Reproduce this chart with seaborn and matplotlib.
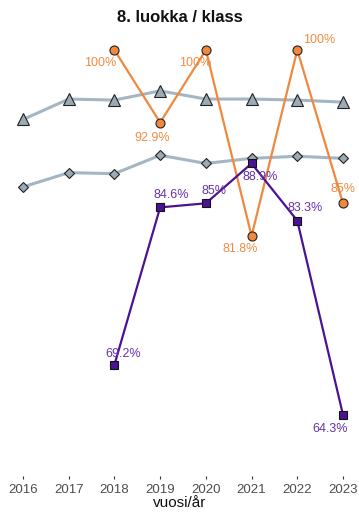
import numpy as np
import pandas as pd
import matplotlib
matplotlib.use("Agg")
import matplotlib.pyplot as plt
import seaborn as sns

years = [2016, 2017, 2018, 2019, 2020, 2021, 2022, 2023]

# gray reference series (no labels)
ref_triangle = [93.2, 95.2, 95.1, 96.0, 95.2, 95.2, 95.1, 94.9]
ref_diamond = [86.6, 88.0, 87.9, 89.7, 88.9, 89.4, 89.6, 89.4]

orange_years = [2018, 2019, 2020, 2021, 2022, 2023]
orange_vals = [100, 92.9, 100, 81.8, 100, 85]
orange_labels = ["100%", "92.9%", "100%", "81.8%", "100%", "85%"]

purple_years = [2018, 2019, 2020, 2021, 2022, 2023]
purple_vals = [69.2, 84.6, 85, 88.9, 83.3, 64.3]
purple_labels = ["69.2%", "84.6%", "85%", "88.9%", "83.3%", "64.3%"]

# label offsets in points (dx, dy)
orange_offsets = [(-10, -9), (-6, -11), (-8, -9), (-8, -9), (16, 7), (0, 10)]
purple_offsets = [(6, 8), (8, 9), (6, 9), (6, -10), (6, 9), (-9, -10)]

sns.set_theme(style="white")
plt.rcParams['font.family'] = ['Liberation Sans', 'DejaVu Sans']

fig = plt.figure(figsize=(3.59, 5.12), dpi=100)
W, H = 359, 512
ax = fig.add_axes([5 / W, 1 - 476 / H, 349 / W, (476 - 35) / H])

gray_line = "#a5b6c2"
gray_fill = "#9aabb6"
orange = "#f0883e"
purple = "#4b1394"

sns.lineplot(x=years, y=ref_triangle, ax=ax, color=gray_line, lw=2.2,
             marker="^", markersize=8, markerfacecolor=gray_fill,
             markeredgecolor="#222222", markeredgewidth=0.8)
sns.lineplot(x=years, y=ref_diamond, ax=ax, color=gray_line, lw=2.2,
             marker="D", markersize=5.5, markerfacecolor=gray_fill,
             markeredgecolor="#222222", markeredgewidth=0.8)
sns.lineplot(x=orange_years, y=orange_vals, ax=ax, color=orange, lw=1.6,
             marker="o", markersize=6.5, markerfacecolor=orange,
             markeredgecolor="#222222", markeredgewidth=0.8)
sns.lineplot(x=purple_years, y=purple_vals, ax=ax, color=purple, lw=1.6,
             marker="s", markersize=5.5, markerfacecolor=purple,
             markeredgecolor="#111111", markeredgewidth=0.8)

for x, y, t, (dx, dy) in zip(orange_years, orange_vals, orange_labels, orange_offsets):
    ax.annotate(t, (x, y), xytext=(dx, dy), textcoords="offset points",
                ha="center", va="center", fontsize=9, color="#f08c45")
for x, y, t, (dx, dy) in zip(purple_years, purple_vals, purple_labels, purple_offsets):
    ax.annotate(t, (x, y), xytext=(dx, dy), textcoords="offset points",
                ha="center", va="center", fontsize=9, color="#6633aa")

ax.set_xlim(2016 - 18 / 45.71, 2023 + 11 / 45.71)
ax.set_ylim(100 - (476 - 50) / 10.22, 100 + 15 / 10.22)
ax.set_xticks(years)
ax.set_xticklabels([str(y) for y in years])
ax.set_yticks([])
ax.tick_params(axis="x", length=2.5, width=0.8, color="#333333",
               labelsize=9.5, labelcolor="#4d4d4d", pad=3, bottom=True)
for s in ax.spines.values():
    s.set_visible(False)
ax.set_xlabel("vuosi/år", fontsize=11, color="#111111", labelpad=0)
ax.set_ylabel("")
ax.set_title("8. luokka / klass", fontsize=12, fontweight="bold",
             color="#111111", pad=9)

fig.savefig("out.png", dpi=100)
